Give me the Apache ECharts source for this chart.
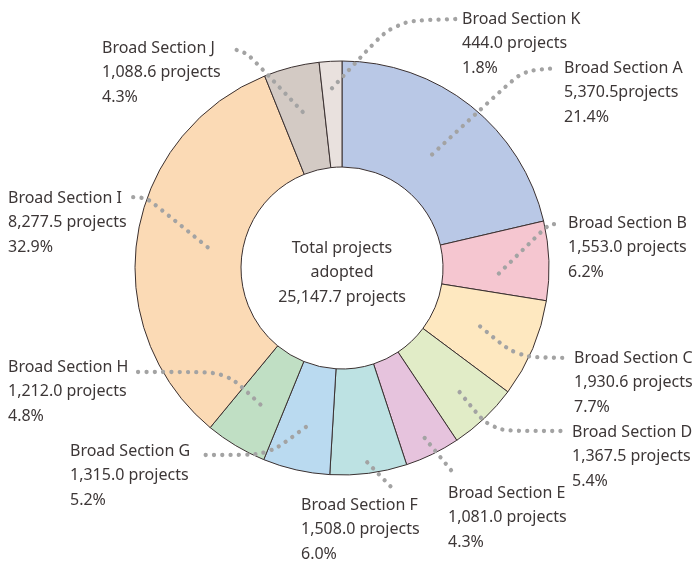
<!DOCTYPE html>
<html>
<head>
<meta charset="utf-8">
<script src="https://cdn.jsdelivr.net/npm/echarts@6/dist/echarts.min.js"></script>
<style>
  html, body { margin: 0; padding: 0; background: #fff; }
  #chart { width: 699px; height: 562px; }
</style>
</head>
<body>
<div id="chart"></div>
<script>
var sections = ["Broad Section A", "Broad Section B", "Broad Section C", "Broad Section D",
  "Broad Section E", "Broad Section F", "Broad Section G", "Broad Section H",
  "Broad Section I", "Broad Section J", "Broad Section K"];
var projects = [5370.5, 1553.0, 1930.6, 1367.5, 1081.0, 1508.0, 1315.0, 1212.0, 8277.5, 1088.6, 444.0];
var unitText = ["projects", " projects", " projects", " projects", " projects", " projects",
  " projects", " projects", " projects", " projects", " projects"];
var colors = ["#b9c8e6", "#f5c6d0", "#fee8c0", "#e1ecc7", "#e6c3dd", "#bde2e3",
  "#badaf0", "#c0dfc4", "#fbdab5", "#d3cac4", "#e9e1de"];

// where each label sits and how its dotted leader bends
var cx = 342, cy = 268;
var labelPos = [
  { x: 564, y: 56,  r: 145, bend: [522, 71],  end: [557, 68] },
  { x: 568, y: 211, r: 157, da: 4, bend: [548, 225], end: [561, 223] },
  { x: 574, y: 346, r: 150, bend: [517, 357], end: [567, 358] },
  { x: 572, y: 420, r: 171, bend: [491, 431], end: [564, 431] },
  { x: 448, y: 481, r: 189, bend: [455, 475], end: [455, 475] },
  { x: 301, y: 493, r: 196, bend: [396, 492], end: [396, 492] },
  { x: 70,  y: 439, r: 163, bend: [268, 455], end: [201, 455] },
  { x: 8,   y: 355, r: 159, bend: [226, 372], end: [138, 372] },
  { x: 8,   y: 186, r: 136, bend: [147, 198], end: [131, 197] },
  { x: 102, y: 36,  r: 161, bend: [247, 53],  end: [230, 48] },
  { x: 462, y: 7,   r: 180, bend: [394, 21],  end: [456, 19] }
];

var total = projects.reduce(function (a, b) { return a + b; }, 0);
var startFrac = [];
projects.reduce(function (acc, v, i) { startFrac[i] = acc; return acc + v / total; }, 0);

function fmt(v) {
  return v.toLocaleString("en-US", { minimumFractionDigits: 1, maximumFractionDigits: 1 });
}

var textColor = "#3d3737";
var pieData = sections.map(function (name, i) {
  return { name: name, value: projects[i], itemStyle: { color: colors[i] } };
});

var myChart = echarts.init(document.getElementById("chart"));
myChart.setOption({
  animation: false,
  title: {
    text: "Total projects\nadopted\n" + fmt(total) + " projects",
    left: cx,
    top: 236,
    padding: 0,
    textAlign: "center",
    textStyle: {
      fontFamily: "Noto Sans",
      fontSize: 16,
      fontWeight: "normal",
      lineHeight: 24.5,
      color: textColor
    }
  },
  series: [
    {
      // filled ring
      type: "pie",
      center: [cx, cy],
      radius: [101, 207],
      startAngle: 90,
      clockwise: true,
      silent: true,
      data: pieData,
      itemStyle: {
        borderColor: "#3a3030",
        borderWidth: 1
      },
      label: { show: false },
      labelLine: { show: false }
    },
    {
      // labels and dotted leaders, drawn above the ring
      type: "pie",
      z: 3,
      center: [cx, cy],
      radius: [101, 207],
      startAngle: 90,
      clockwise: true,
      silent: true,
      avoidLabelOverlap: false,
      data: sections.map(function (name, i) { return { name: name, value: projects[i] }; }),
      itemStyle: {
        color: "rgba(0,0,0,0)",
        borderWidth: 0
      },
      label: {
        show: true,
        position: "outside",
        overflow: "none",
        fontFamily: "Noto Sans",
        fontSize: 16,
        lineHeight: 24.5,
        color: textColor,
        formatter: function (p) {
          var i = p.dataIndex;
          return p.name + "\n" + fmt(projects[i]) + unitText[i] + "\n" +
            (projects[i] / total * 100).toFixed(1) + "%";
        }
      },
      labelLine: {
        show: true,
        smooth: 0.25,
        lineStyle: {
          color: "#a3a3a3",
          width: 4.3,
          type: [0.01, 8.3],
          cap: "round"
        }
      },
      labelLayout: function (p) {
        var i = p.dataIndex, L = labelPos[i];
        var a = (startFrac[i] + projects[i] / total / 2) * 2 * Math.PI + (L.da || 0) * Math.PI / 180;
        var sx = cx + L.r * Math.sin(a), sy = cy - L.r * Math.cos(a);
        return {
          x: L.x,
          y: L.y,
          align: "left",
          verticalAlign: "top",
          labelLinePoints: [[sx, sy], L.bend, L.end]
        };
      }
    }
  ]
});
</script>
</body>
</html>
